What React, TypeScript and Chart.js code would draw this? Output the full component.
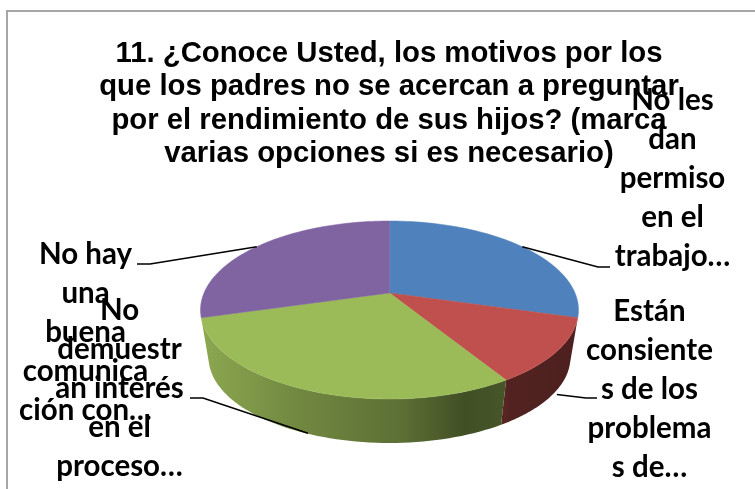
import React, { useEffect, useRef } from "react";
import { Chart, registerables } from "chart.js";

Chart.register(...registerables);

const categories = [
  "No les dan permiso en el trabajo…",
  "Están consientes de los problemas de…",
  "No demuestran interés en el proceso…",
  "No hay una buena comunicación con…",
];
const values = [5, 2, 5, 5];
const colors = ["#4f81bd", "#c0504d", "#9bbb59", "#8064a2"];
const titleLines = [
  "11. ¿Conoce Usted, los motivos por los",
  "que los padres no se acercan a preguntar",
  "por el rendimiento de sus hijos? (marca",
  "varias opciones si es necesario)",
];
const labelLines = [
  ["No les", "dan", "permiso", "en el", "trabajo…"],
  ["Están", "consiente", "s de los", "problema", "s de…"],
  ["No", "demuestr", "an interés", "en el", "proceso…"],
  ["No hay", "una", "buena", "comunica", "ción con…"],
];
const labelBlocks = [
  { cx: 672.5, first: 110, knee: [610, 267], end: [598, 267] },
  { cx: 649.5, first: 320.5, knee: [597, 398], end: [586, 398] },
  { cx: 119.5, first: 319.5, knee: [190, 398], end: [203, 398] },
  { cx: 85.5, first: 263.5, knee: [137, 264], end: [150, 264] },
];

const K = 0.191;
const SY = 85.75;
const BOTTOM_SCALE = 0.957;
const BOTTOM_DY = 48.5;
const wallStops: [number, number][] = [
  [202, 0.9],
  [290, 0.74],
  [400, 0.6],
  [465, 0.42],
  [505, 0.46],
  [510, 0.42],
  [578, 0.4],
];

function shade(hex: string, f: number) {
  const n = parseInt(hex.slice(1), 16);
  const c = (s: number) => Math.round(((n >> s) & 255) * f);
  return `rgb(${c(16)},${c(8)},${c(0)})`;
}

function project(arc: any, angle: number, bottom: boolean) {
  const theta = angle + Math.PI / 2;
  const u = Math.sin(theta);
  const v = -Math.cos(theta);
  const w = 1 - K * v;
  const f = bottom ? BOTTOM_SCALE : 1;
  return {
    x: arc.x + (f * arc.outerRadius * u) / w,
    y: arc.y + (bottom ? BOTTOM_DY : 0) + (f * SY * v) / w,
  };
}

const pie3d = {
  id: "pie3d",
  beforeDraw(chart: any) {
    const { ctx } = chart;
    ctx.save();
    ctx.fillStyle = "#ffffff";
    ctx.fillRect(0, 0, 755, 489);
    ctx.strokeStyle = "#a6a6a6";
    ctx.lineWidth = 2;
    ctx.beginPath();
    ctx.moveTo(7, 489);
    ctx.lineTo(7, 11);
    ctx.lineTo(755, 11);
    ctx.stroke();
    ctx.restore();
  },
  beforeDatasetsDraw(chart: any) {
    const { ctx } = chart;
    const arcs = chart.getDatasetMeta(0).data;
    ctx.save();
    // near walls: only the slices whose middle faces the viewer
    arcs.forEach((arc: any, i: number) => {
      if (Math.sin((arc.startAngle + arc.endAngle) / 2) <= 0) return;
      const lo = Math.max(arc.startAngle, 0);
      const hi = Math.min(arc.endAngle, Math.PI);
      if (hi <= lo) return;
      const grad = ctx.createLinearGradient(202, 0, 578, 0);
      wallStops.forEach(([x, f]) =>
        grad.addColorStop((x - 202) / 376, shade(colors[i], f)),
      );
      ctx.fillStyle = grad;
      ctx.beginPath();
      const n = 60;
      for (let s = 0; s <= n; s++) {
        const p = project(arc, lo + ((hi - lo) * s) / n, false);
        if (s === 0) ctx.moveTo(p.x, p.y);
        else ctx.lineTo(p.x, p.y);
      }
      for (let s = n; s >= 0; s--) {
        const p = project(arc, lo + ((hi - lo) * s) / n, true);
        ctx.lineTo(p.x, p.y);
      }
      ctx.closePath();
      ctx.fill();
    });
    // top faces
    arcs.forEach((arc: any) => {
      const col = arc.options.backgroundColor;
      ctx.fillStyle = col;
      ctx.strokeStyle = col;
      ctx.lineWidth = 0.5;
      ctx.beginPath();
      ctx.moveTo(arc.x, arc.y);
      const n = 80;
      for (let s = 0; s <= n; s++) {
        const p = project(
          arc,
          arc.startAngle + ((arc.endAngle - arc.startAngle) * s) / n,
          false,
        );
        ctx.lineTo(p.x, p.y);
      }
      ctx.closePath();
      ctx.fill();
      ctx.stroke();
    });
    ctx.restore();
    return false;
  },
  afterDraw(chart: any) {
    const { ctx } = chart;
    const arcs = chart.getDatasetMeta(0).data;
    ctx.save();
    ctx.fillStyle = "#000000";
    ctx.textAlign = "center";
    ctx.textBaseline = "alphabetic";
    // leader lines
    ctx.strokeStyle = "#000000";
    ctx.lineWidth = 1.5;
    arcs.forEach((arc: any, i: number) => {
      const mid = (arc.startAngle + arc.endAngle) / 2;
      const near = Math.sin(mid) > 0;
      const a = project(arc, mid, false);
      const y = near ? a.y + 43 : a.y;
      const b = labelBlocks[i];
      ctx.beginPath();
      ctx.moveTo(b.knee[0], b.knee[1]);
      ctx.lineTo(b.end[0], b.end[1]);
      ctx.lineTo(a.x, y);
      ctx.stroke();
    });
    // title
    ctx.font = 'bold 29.3px "Liberation Sans"';
    titleLines.forEach((t, i) => ctx.fillText(t, 389, 62 + i * 33.4));
    // data labels
    ctx.font = 'bold 29.5px Lato';
    labelLines.forEach((lines, i) => {
      const b = labelBlocks[i];
      lines.forEach((t, j) => ctx.fillText(t, b.cx, b.first + j * 39));
    });
    ctx.restore();
  },
};

export default function App() {
  const ref = useRef<HTMLCanvasElement>(null);
  useEffect(() => {
    const chart = new Chart(ref.current!, {
      type: "pie",
      data: {
        labels: categories,
        datasets: [{ data: values, backgroundColor: colors, borderWidth: 0 }],
      },
      options: {
        animation: false,
        responsive: false,
        radius: 185.5,
        layout: { padding: { left: 24, top: 97 } },
        plugins: { legend: { display: false }, tooltip: { enabled: false } },
      } as any,
      plugins: [pie3d],
    });
    return () => chart.destroy();
  }, []);
  return (
    <div style={{ position: "absolute", left: 0, top: 0 }}>
      <canvas ref={ref} width={755} height={489} style={{ display: "block" }} />
    </div>
  );
}
